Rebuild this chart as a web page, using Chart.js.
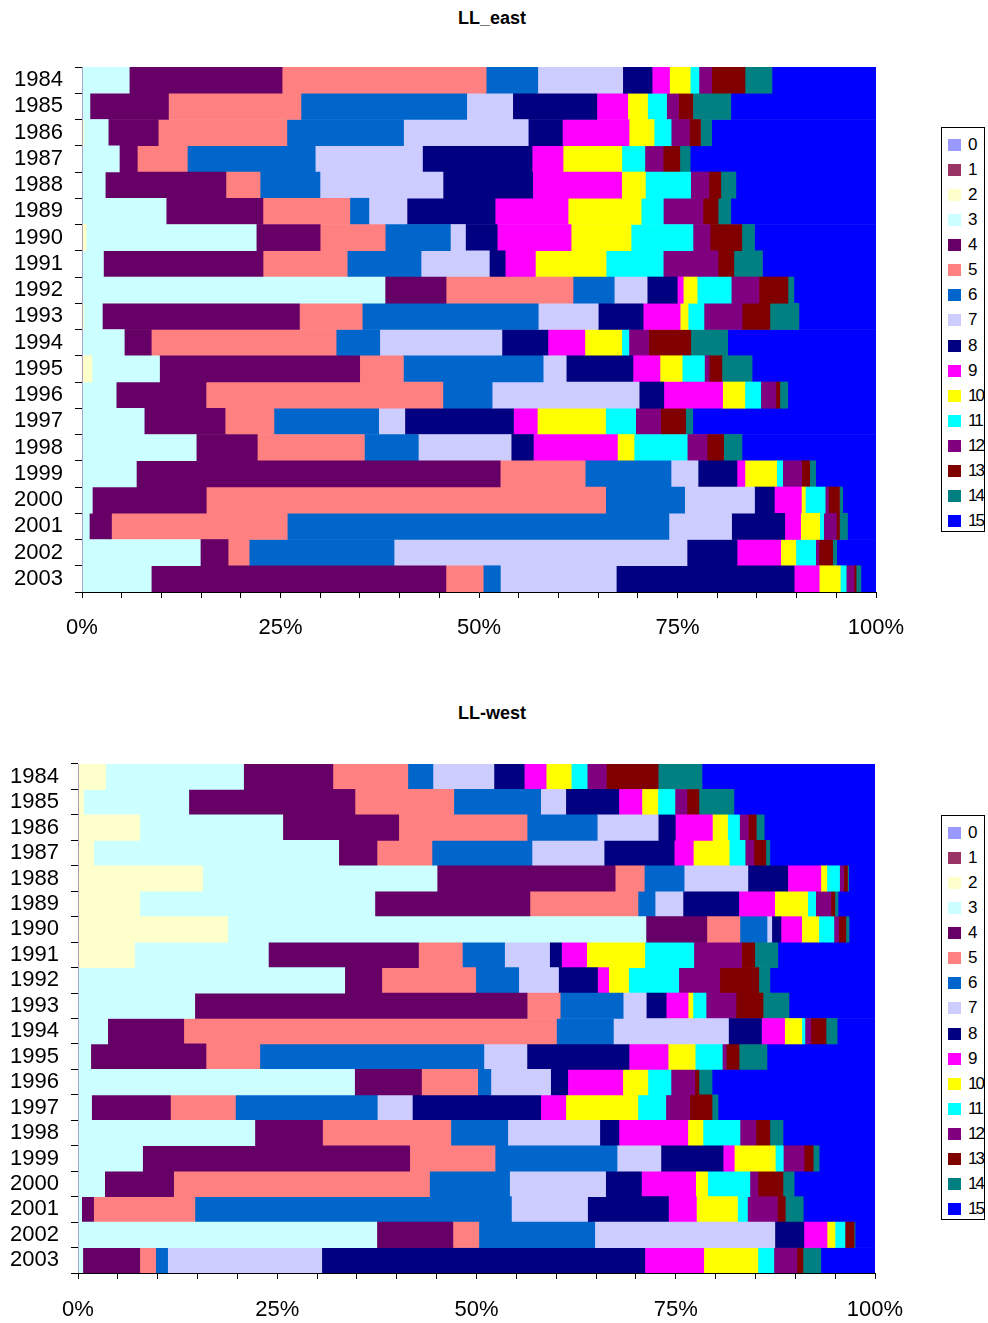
<!DOCTYPE html>
<html>
<head>
<meta charset="utf-8">
<script src="https://cdn.jsdelivr.net/npm/chart.js@4.4.1/dist/chart.umd.min.js"></script>
<style>
  body { margin: 0; background: #fff; width: 988px; height: 1323px; position: relative; overflow: hidden;
         font-family: 'Liberation Sans', Arial, sans-serif; }
  .title { position: absolute; left: 0; width: 984px; text-align: center; font-weight: bold; font-size: 18px; }
  canvas { position: absolute; left: 0; }
  .legend { position: absolute; left: 941px; width: 42px; border: 1px solid #000; background: #fff; }
  .legend-item { position: absolute; left: 5px; height: 25px; }
  .legend-item span.sw { position: absolute; left: 1px; top: 6px; width: 13px; height: 12px; }
  .legend-item span.lb { position: absolute; left: 21px; top: 1px; font-size: 17px; letter-spacing: -2px; line-height: 22px; }
</style>
</head>
<body>
<div class="title" style="top:8px">LL_east</div>
<canvas id="eastChart" width="988" height="642" style="top:0"></canvas>
<div class="legend" id="eastLegend" style="top:127px;height:403px"></div>

<div class="title" style="top:703px">LL-west</div>
<canvas id="westChart" width="988" height="623" style="top:700px"></canvas>
<div class="legend" id="westLegend" style="top:815px;height:403px"></div>

<script>
// Categories (legend) and Excel-style colours
const categories = ['0', '1', '2', '3', '4', '5', '6', '7', '8', '9', '10', '11', '12', '13', '14', '15'];
const colors = ['#9999FF', '#993366', '#FFFFCC', '#CCFFFF', '#660066', '#FF8080', '#0066CC', '#CCCCFF',
                '#000080', '#FF00FF', '#FFFF00', '#00FFFF', '#800080', '#800000', '#008080', '#0000FF'];

const years = ['1984', '1985', '1986', '1987', '1988', '1989', '1990', '1991', '1992', '1993',
               '1994', '1995', '1996', '1997', '1998', '1999', '2000', '2001', '2002', '2003'];

const xTicks = [0, 25, 50, 75, 100];

// LL_east shares (%) per year, categories 0..15
const eastRows = [
  [0, 0, 0, 5.95, 19.25, 25.7, 6.5, 10.7, 3.7, 2.2, 2.6, 1.1, 1.6, 4.2, 3.4, 13.1],   // 1984
  [0, 0, 0, 1.0, 9.9, 16.7, 20.9, 5.8, 10.6, 3.9, 2.5, 2.4, 1.5, 1.8, 4.8, 18.3],      // 1985
  [0, 0, 0.2, 3.1, 6.3, 16.2, 14.7, 15.7, 4.3, 8.4, 3.15, 2.15, 2.3, 1.4, 1.4, 20.7],  // 1986
  [0, 0, 0, 4.7, 2.26, 6.3, 16.1, 13.5, 13.8, 3.9, 7.4, 2.9, 2.3, 2.1, 1.3, 23.4],     // 1987
  [0, 0, 0, 2.93, 15.2, 4.3, 7.55, 15.5, 11.3, 11.2, 3.0, 5.7, 2.3, 1.5, 1.9, 17.65],  // 1988
  [0, 0, 0, 10.6, 12.2, 10.95, 2.4, 4.8, 11.1, 9.2, 9.2, 2.8, 5.0, 1.9, 1.6, 18.3],    // 1989
  [0, 0, 0.54, 21.4, 8.05, 8.2, 8.2, 1.9, 4.0, 9.3, 7.55, 7.8, 2.15, 4.0, 1.6, 15.3],  // 1990
  [0, 0, 0, 2.7, 20.1, 10.6, 9.3, 8.6, 2.0, 3.8, 8.9, 7.2, 6.9, 2.0, 3.6, 14.3],       // 1991
  [0, 0, 0, 38.2, 7.7, 16.0, 5.2, 4.15, 3.8, 0.75, 1.75, 4.3, 3.5, 3.65, 0.75, 10.35], // 1992
  [0, 0, 0.2, 2.36, 24.8, 7.9, 22.15, 7.55, 5.65, 4.65, 1.0, 2.0, 4.8, 3.5, 3.65, 9.7],// 1993
  [0, 0, 0, 5.33, 3.4, 23.3, 5.5, 15.4, 5.8, 4.65, 4.65, 0.9, 2.5, 5.3, 4.65, 18.7],   // 1994
  [0, 0, 1.26, 8.5, 25.2, 5.5, 17.6, 2.9, 8.4, 3.4, 2.8, 2.8, 0.6, 1.6, 3.8, 15.6],    // 1995
  [0, 0, 0, 4.3, 11.3, 29.8, 6.2, 18.5, 3.1, 7.4, 2.8, 2.0, 1.9, 0.5, 1.0, 11.1],      // 1996
  [0, 0, 0, 7.84, 10.2, 6.16, 13.2, 3.3, 13.7, 3.0, 8.6, 3.8, 3.15, 3.15, 0.9, 23.1],  // 1997
  [0, 0, 0, 14.4, 7.7, 13.5, 6.8, 11.7, 2.8, 10.6, 2.1, 6.7, 2.5, 2.1, 2.3, 16.9],     // 1998
  [0, 0, 0, 6.84, 45.8, 10.7, 10.8, 3.4, 4.9, 1.0, 4.0, 0.75, 2.4, 1.0, 0.75, 7.6],    // 1999
  [0, 0, 0, 1.3, 14.35, 50.3, 9.95, 8.8, 2.5, 3.4, 0.5, 2.5, 0.4, 1.4, 0.4, 4.2],      // 2000
  [0, 0, 0, 0.92, 2.8, 22.15, 48.1, 7.9, 6.7, 2.0, 2.4, 0.5, 1.6, 0.4, 1.0, 3.6],      // 2001
  [0, 0, 0, 14.9, 3.5, 2.65, 18.25, 36.9, 6.3, 5.5, 1.9, 2.5, 0.4, 1.75, 0.5, 4.95],   // 2002
  [0, 0, 0, 8.72, 37.1, 4.7, 2.15, 14.6, 22.4, 3.15, 2.65, 0.75, 1.0, 0.25, 0.6, 1.9]  // 2003
];

// LL-west shares (%) per year, categories 0..15
const westRows = [
  [0, 0, 3.47, 17.3, 11.2, 9.4, 3.15, 7.65, 3.8, 2.75, 3.15, 2.0, 2.4, 6.5, 5.5, 21.7],      // 1984
  [0, 0, 0.7, 13.2, 20.85, 12.4, 10.9, 3.15, 6.65, 2.9, 2.0, 2.15, 1.5, 1.5, 4.4, 17.7],     // 1985
  [0, 0, 7.74, 17.95, 14.55, 16.1, 8.8, 7.65, 2.15, 4.65, 1.9, 1.5, 1.1, 1.0, 1.0, 13.9],    // 1986
  [0, 0, 1.97, 30.75, 4.8, 6.9, 12.55, 9.05, 8.8, 2.4, 4.5, 2.0, 1.1, 1.5, 0.5, 13.2],       // 1987
  [0, 0, 15.65, 29.4, 22.35, 3.65, 5.0, 8.0, 5.0, 4.15, 0.75, 1.6, 0.5, 0.5, 0.15, 3.3],     // 1988
  [0, 0, 7.74, 29.5, 19.45, 13.55, 2.15, 3.5, 7.0, 4.5, 4.15, 1.0, 1.9, 0.5, 0.4, 4.64],     // 1989
  [0, 0, 18.8, 52.5, 7.65, 4.15, 3.4, 0.6, 1.15, 2.6, 2.15, 1.9, 0.6, 0.9, 0.4, 3.26],       // 1990
  [0, 0, 7.1, 16.8, 18.85, 5.5, 5.3, 5.65, 1.5, 3.15, 7.3, 6.15, 6.0, 1.65, 2.9, 12.2],      // 1991
  [0, 0, 0, 33.5, 4.65, 11.8, 5.4, 5.0, 4.9, 1.4, 2.5, 6.3, 5.15, 4.9, 1.4, 13.2],           // 1992
  [0, 0, 0, 14.65, 41.7, 4.15, 7.9, 2.9, 2.5, 2.75, 0.6, 1.65, 3.75, 3.4, 3.25, 10.8],       // 1993
  [0, 0, 0, 3.73, 9.55, 46.8, 7.15, 14.45, 4.15, 2.9, 2.15, 0.4, 0.75, 1.9, 1.4, 4.75],      // 1994
  [0, 0, 0, 1.6, 14.45, 6.75, 28.1, 5.4, 12.8, 4.9, 3.4, 3.4, 0.5, 1.6, 3.5, 13.55],         // 1995
  [0, 0, 0, 34.7, 8.4, 7.05, 1.65, 7.5, 2.15, 6.9, 3.15, 2.9, 3.0, 0.5, 1.65, 20.45],        // 1996
  [0, 0, 0, 1.7, 9.9, 8.15, 17.8, 4.4, 16.1, 3.15, 9.05, 3.5, 3.0, 2.8, 0.75, 19.7],         // 1997
  [0, 0, 0, 22.2, 8.5, 16.1, 7.15, 11.55, 2.4, 8.65, 1.9, 4.65, 2.0, 1.75, 1.65, 11.55],     // 1998
  [0, 0, 0, 8.1, 33.5, 10.7, 15.3, 5.5, 7.8, 1.4, 5.15, 1.0, 2.6, 1.15, 0.75, 7.0],          // 1999
  [0, 0, 0, 3.35, 8.65, 32.1, 10.05, 12.05, 4.5, 6.8, 1.5, 5.3, 1.0, 3.15, 1.4, 10.15],      // 2000
  [0, 0, 0, 0.46, 1.5, 12.7, 39.7, 9.55, 10.15, 3.5, 5.15, 1.25, 3.75, 1.0, 2.25, 9.0],      // 2001
  [0, 0, 0, 37.5, 9.55, 3.25, 14.55, 22.6, 3.65, 2.9, 1.0, 1.25, 0, 1.15, 0.12, 2.5],        // 2002
  [0, 0, 0, 0.6, 7.15, 2.0, 1.5, 19.35, 40.55, 7.4, 6.8, 2.0, 2.9, 0.75, 2.25, 6.8]          // 2003
];

const FONT = "'Liberation Sans', Arial, sans-serif";

/**
 * Build 100% stacked datasets (one per category) from year rows
 */
function buildDatasets(rows) {
  const totals = rows.map(r => r.reduce((a, b) => a + b, 0));
  return categories.map((cat, i) => ({
    label: cat,
    data: rows.map((r, y) => r[i] / totals[y] * 100),
    backgroundColor: colors[i],
    borderWidth: 0,
    barPercentage: 1.0,
    categoryPercentage: 1.0
  }));
}

/**
 * Draw one stacked horizontal bar chart
 */
function makeChart(canvasId, rows, box) {
  const ctx = document.getElementById(canvasId).getContext('2d');
  return new Chart(ctx, {
    type: 'bar',
    data: { labels: years, datasets: buildDatasets(rows) },
    options: {
      indexAxis: 'y',
      responsive: false,
      animation: false,
      devicePixelRatio: 1,
      layout: { padding: { top: box.top, right: box.right, left: 0, bottom: 0 } },
      plugins: { legend: { display: false }, tooltip: { enabled: false }, title: { display: false } },
      scales: {
        x: {
          stacked: true,
          min: 0,
          max: 100,
          afterFit: (scale) => { scale.height = 50; },
          border: { color: '#000', width: 1 },
          grid: { drawOnChartArea: false, color: '#000', tickLength: 6 },
          ticks: {
            stepSize: 5,
            autoSkip: false,
            maxRotation: 0,
            padding: box.xPad,
            color: '#000',
            font: { family: FONT, size: 22 },
            callback: (v) => xTicks.includes(v) ? v + '%' : ''
          }
        },
        y: {
          stacked: true,
          afterFit: (scale) => { scale.width = box.left; },
          border: { color: '#000', width: 1 },
          grid: { drawOnChartArea: false, color: '#000', tickLength: 7, offset: true },
          ticks: {
            autoSkip: false,
            padding: 12,
            color: '#000',
            font: { family: FONT, size: 22 }
          }
        }
      }
    }
  });
}

/**
 * HTML legend with boxed swatches
 */
function makeLegend(id) {
  const el = document.getElementById(id);
  categories.forEach((cat, i) => {
    const item = document.createElement('div');
    item.className = 'legend-item';
    item.style.top = (5 + i * 25.07) + 'px';
    item.innerHTML = `<span class="sw" style="background:${colors[i]}"></span><span class="lb">${cat}</span>`;
    el.appendChild(item);
  });
}

makeChart('eastChart', eastRows, { left: 82, top: 67, right: 112, xPad: 17 });
makeChart('westChart', westRows, { left: 78, top: 64, right: 113, xPad: 18 });
makeLegend('eastLegend');
makeLegend('westLegend');
</script>
</body>
</html>
